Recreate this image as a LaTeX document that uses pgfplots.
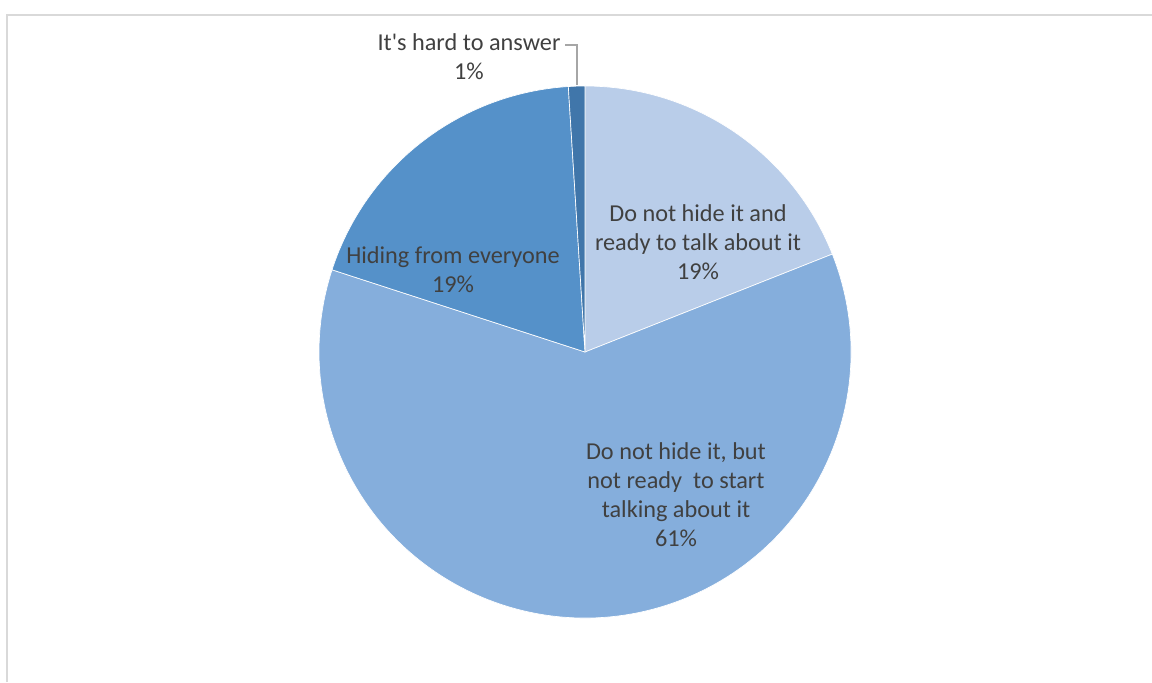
\documentclass[border=0pt]{standalone}
\usepackage{pgfplots}
\usepackage{pgfplotstable}
\pgfplotsset{compat=1.18}
\usepackage{fontspec}
\setmainfont{Carlito}[Ligatures=TeXOff]
\definecolor{c1}{HTML}{B9CDE9}
\definecolor{c2}{HTML}{85AEDC}
\definecolor{c3}{HTML}{5591C9}
\definecolor{c4}{HTML}{4076AA}
\definecolor{txt}{HTML}{404040}
\definecolor{frame}{HTML}{D9D9D9}
\definecolor{lead}{HTML}{A6A6A6}

\pgfplotstableread{
idx value color
0 19 c1
1 61 c2
2 19 c3
3 1 c4
}\piedata

\tikzset{lbl/.style={font=\fontsize{18.2}{21.75}\selectfont, text=txt, align=center, inner sep=0pt}}

\begin{document}
\begin{tikzpicture}
\path[use as bounding box] (0,0) rectangle (864pt,511.5pt);
\begin{axis}[
  hide axis, scale only axis,
  width=864pt, height=511.5pt,
  xmin=0, xmax=1152, ymin=0, ymax=682,
  clip=false,
]
\addplot[draw=none, forget plot] coordinates {(0,0) (1152,682)};
\pgfplotsextra{
  \xdef\startang{90}
  \foreach \i in {0,1,2,3} {
    \pgfplotstablegetelem{\i}{value}\of\piedata
    \let\val\pgfplotsretval
    \pgfplotstablegetelem{\i}{color}\of\piedata
    \let\col\pgfplotsretval
    \pgfmathsetmacro{\endang}{\startang - 3.6*\val}
    \fill[\col, draw=white, line width=0.5pt] (axis cs:585,330) -- ++(\startang:199.5pt) arc[start angle=\startang, end angle=\endang, radius=199.5pt] -- cycle;
    \xdef\startang{\endang}
  }
}
\draw[frame, line width=1.5pt] (axis cs:7,0) -- (axis cs:7,667) -- (axis cs:1152,667);
\draw[lead, line width=1pt] (axis cs:565,637) -- (axis cs:577,637) -- (axis cs:577,597);
\node[lbl] at (axis cs:698,440) {Do not hide it and\\ready to talk about it\\19\%};
\node[lbl] at (axis cs:676,187.5) {Do not hide it, but\\not ready\ \ to start\\talking about it\\61\%};
\node[lbl] at (axis cs:453,412.5) {Hiding from everyone\\19\%};
\node[lbl] at (axis cs:469,625) {It's hard to answer\\1\%};
\end{axis}
\end{tikzpicture}
\end{document}
